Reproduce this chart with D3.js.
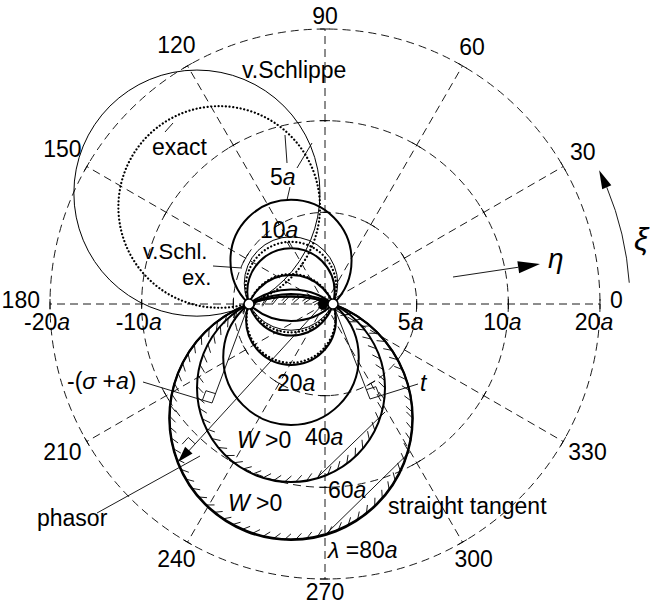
<!DOCTYPE html>
<html><head><meta charset="utf-8">
<script src="https://cdn.jsdelivr.net/npm/d3@7"></script>
<style>
body{margin:0;background:#fff}
svg{display:block}
text{font-family:"Liberation Sans",Arial,Helvetica,sans-serif;font-size:23px;fill:#000}
</style>
</head><body>
<svg id="c" width="650" height="611"></svg>
<script>
// ---------- data ----------
const angleTicks = [0,30,60,90,120,150,180,210,240,270,300,330];
const angleLabels = ["0","30","60","90","120","150","180","210","240","270","300","330"];
const ringValues = [5,10,20];
const ringLabelsRight = ["5","10","20"];
const ringLabelsLeft = ["","-10","-20"];
const familyNames = ["5a","10a","m10a","20a","40a","60a","80a"];
const familyBulge = [2.48,1.33,-1.45,-2.88,-4.24,-5.60,-5.62];
const hatchedNames = ["40a","80a"];
const exactSmallBulge = [1.48,-1.40];
const schlSmallBulge = [1.60];
const exactBig = [-1.71, 2.31, 2.40];      // centre eta, centre xi, radius
const schlippeBig = [-2.24, 2.64, 2.93];
const tangentLines = [[[0.64,-4.12],[2.24,-2.57]],[[0.81,-5.50],[2.83,-3.52]]];

// ---------- setup ----------
const svg = d3.select("#c");
const CX = 325, CY = 304;
const rS = d3.scaleLog().domain([2.5,20]).range([0,275]);
const rad = d => d*Math.PI/180;
const pol = (deg, rr) => [CX + rr*Math.cos(rad(deg)), CY - rr*Math.sin(rad(deg))];
const ex = d3.scaleLinear().domain([-1,1]).range([249,333]);
const ey = d3.scaleLinear().domain([-1,1]).range([346,262]);
const unit = ex(1)-ex(0);

// ---------- polar grid ----------
const grid = svg.append("g").attr("stroke","#000").attr("stroke-width",0.9)
  .attr("fill","none").attr("stroke-dasharray","8,5");
ringValues.forEach(v => grid.append("circle").attr("cx",CX).attr("cy",CY).attr("r",rS(v)));
angleTicks.forEach(a => {
  const [x,y] = pol(a, rS(20));
  grid.append("line").attr("x1",CX).attr("y1",CY).attr("x2",x).attr("y2",y);
});
const tk = svg.append("g").attr("stroke","#000").attr("stroke-width",0.9);
ringValues.forEach(v => angleTicks.forEach(a => {
  const [x,y] = pol(a, rS(v));
  const tx = Math.sin(rad(a)), ty = Math.cos(rad(a));
  tk.append("line").attr("x1",x-5*tx).attr("y1",y-5*ty).attr("x2",x+5*tx).attr("y2",y+5*ty);
}));

// angle labels
angleTicks.forEach((a,i) => {
  const w = angleLabels[i].length*12.8;
  const c = Math.abs(Math.cos(rad(a))), s = Math.abs(Math.sin(rad(a)));
  const rr = 285 + w/2*c + 3*s;
  const [x,y] = pol(a, rr);
  svg.append("text").attr("x",x).attr("y",y+8-4*c).attr("text-anchor","middle").text(angleLabels[i]);
});

function label(x, y, parts, anchor, size){
  const t = svg.append("text").attr("x",x).attr("y",y).attr("text-anchor",anchor||"start");
  if(size) t.style("font-size",size+"px");
  parts.forEach(p => {
    const s = t.append("tspan").text(p[0]);
    if(p[1]) s.style("font-style","italic");
  });
  return t;
}
ringValues.forEach((v,i) => {
  label(CX + rS(v) - 6, 330, [[ringLabelsRight[i]],["a",1]], "middle");
  if(ringLabelsLeft[i]) label(CX - rS(v) - 3, 330, [[ringLabelsLeft[i]],["a",1]], "middle");
});

// ---------- circle family ----------
function famCircle(h){
  const c = (h*h-1)/(2*h), R = (h*h+1)/(2*Math.abs(h));
  return {cx: ex(0), cy: ey(c), r: R*unit};
}
const fam = svg.append("g").attr("fill","none").attr("stroke","#000");
const famGeo = {};
familyBulge.forEach((h,i) => {
  const g = famCircle(h); famGeo[familyNames[i]] = g;
  fam.append("circle").attr("cx",g.cx).attr("cy",g.cy).attr("r",g.r).attr("stroke-width",2);
});
const hatch = svg.append("g").attr("stroke","#000").attr("stroke-width",0.9);
hatchedNames.forEach(n => {
  const g = famGeo[n];
  const step = 11/g.r;
  for(let p=0; p<2*Math.PI-step/2; p+=step){
    const px = g.cx + g.r*Math.cos(p), py = g.cy + g.r*Math.sin(p);
    const nx = -Math.cos(p), ny = -Math.sin(p);
    const c = Math.SQRT1_2;
    const dx = nx*c - ny*c, dy = nx*c + ny*c;
    hatch.append("line").attr("x1",px).attr("y1",py).attr("x2",px+9*dx).attr("y2",py+9*dy);
  }
});
exactSmallBulge.forEach(h => {
  const g = famCircle(h);
  fam.append("circle").attr("cx",g.cx).attr("cy",g.cy).attr("r",g.r)
    .attr("stroke-width",2.2).attr("stroke-dasharray","0.1,3.6").attr("stroke-linecap","round");
});
schlSmallBulge.forEach(h => {
  const g = famCircle(h);
  fam.append("circle").attr("cx",g.cx).attr("cy",g.cy).attr("r",g.r).attr("stroke-width",1);
});
fam.append("circle").attr("cx",ex(exactBig[0])).attr("cy",ey(exactBig[1])).attr("r",exactBig[2]*unit)
  .attr("stroke-width",2.2).attr("stroke-dasharray","0.1,3.6").attr("stroke-linecap","round");
fam.append("circle").attr("cx",ex(schlippeBig[0])).attr("cy",ey(schlippeBig[1])).attr("r",schlippeBig[2]*unit)
  .attr("stroke-width",1);
tangentLines.forEach(l => fam.append("line").attr("x1",ex(l[0][0])).attr("y1",ey(l[0][1]))
  .attr("x2",ex(l[1][0])).attr("y2",ey(l[1][1])).attr("stroke-width",0.9));

// ---------- constructions ----------
const thin = svg.append("g").attr("stroke","#000").attr("stroke-width",0.9).attr("fill","none");
const seg = (a,b) => thin.append("line").attr("x1",a[0]).attr("y1",a[1]).attr("x2",b[0]).attr("y2",b[1]);
const A = [ex(-1), ey(0)], B = [ex(1), ey(0)];
const sc = [212,403];
seg(A, sc); seg(sc, [143,382]);
const tc = [370,399];
seg(B, tc); seg(tc, [418,384]);
function rightAngle(p, u, v, s){
  const nu = Math.hypot(u[0],u[1]), nv = Math.hypot(v[0],v[1]);
  const a = [p[0]+u[0]/nu*s, p[1]+u[1]/nu*s], b = [p[0]+v[0]/nv*s, p[1]+v[1]/nv*s];
  const c = [a[0]+v[0]/nv*s, a[1]+v[1]/nv*s];
  thin.append("path").attr("d",`M${a}L${c}L${b}`);
}
rightAngle(tc, [B[0]-tc[0],B[1]-tc[1]], [418-tc[0],384-tc[1]], 10);
rightAngle(sc, [A[0]-sc[0],A[1]-sc[1]], [143-sc[0],382-sc[1]], 10);
const blob = [323,304], ptip = [178,462];
seg(blob, [ptip[0]+7, ptip[1]-7]);
{
  const d = [ptip[0]-blob[0], ptip[1]-blob[1]], L = Math.hypot(d[0],d[1]);
  const ux = d[0]/L, uy = d[1]/L;
  const bx = ptip[0]-16*ux, by = ptip[1]-16*uy;
  svg.append("path").attr("d",`M${ptip}L${bx-5*uy},${by+5*ux}L${bx+5*uy},${by-5*ux}Z`).attr("fill","#000");
  rightAngle([bx,by],[-ux,-uy],[-uy,ux],9);
}
seg([97,513],[200,456]);
seg([165,132],[173,123]);
seg([285,135],[287,163]);
seg([297,168],[312,143]);
seg([290,187],[287,200]);
seg([287,242],[290,247]);
seg([213,266],[242,268]);

svg.append("ellipse").attr("cx",blob[0]).attr("cy",blob[1]).attr("rx",5).attr("ry",6).attr("fill","#000");
[A,B].forEach(p => svg.append("circle").attr("cx",p[0]).attr("cy",p[1]).attr("r",5)
  .attr("fill","#fff").attr("stroke","#000").attr("stroke-width",1.5));

{
  const s=[453,277], e=[540,264];
  const d=[e[0]-s[0],e[1]-s[1]], L=Math.hypot(d[0],d[1]), ux=d[0]/L, uy=d[1]/L;
  const bx=e[0]-22*ux, by=e[1]-22*uy;
  seg(s,[bx,by]);
  svg.append("path").attr("d",`M${e}L${bx-6*uy},${by+6*ux}L${bx+6*uy},${by-6*ux}Z`).attr("fill","#000");
}
{
  const R=305, a0=4, a1=22.5, at=26;
  const p0=pol(a0,R), p1=pol(a1,R), pt=pol(at,R);
  thin.append("path").attr("d",`M${p0}A${R},${R} 0 0 0 ${p1}`);
  const b=pol(a1,R);
  const ux=pt[0]-b[0], uy=pt[1]-b[1], L=Math.hypot(ux,uy);
  svg.append("path").attr("d",`M${pt}L${b[0]-5*uy/L},${b[1]+5*ux/L}L${b[0]+5*uy/L},${b[1]-5*ux/L}Z`).attr("fill","#000");
}

// ---------- text ----------
label(242,78,[["v.Schlippe"]]);
label(152,155,[["exact"]]);
label(270,185,[["5"],["a",1]]);
label(260,238,[["10"],["a",1]]);
label(143,259,[["v.Schl."]],"start",22);
label(182,285,[["ex."]],"start",22);
label(67,389,[["-("],["σ",1],[" +"],["a",1],[")"]]);
label(277,391,[["20"],["a",1]]);
label(305,445,[["40"],["a",1]]);
label(237,448,[["W",1],[" >0"]]);
label(328,498,[["60"],["a",1]]);
label(228,511,[["W",1],[" >0"]]);
label(388,514,[["straight tangent"]]);
label(37,526,[["phasor"]]);
label(328,558,[["λ",1],[" ="],["80"],["a",1]]);
label(420,391,[["t",1]]);
label(548,268,[["η",1]],"start",28);
label(634,250,[["ξ",1]],"start",32);
</script>
</body></html>
